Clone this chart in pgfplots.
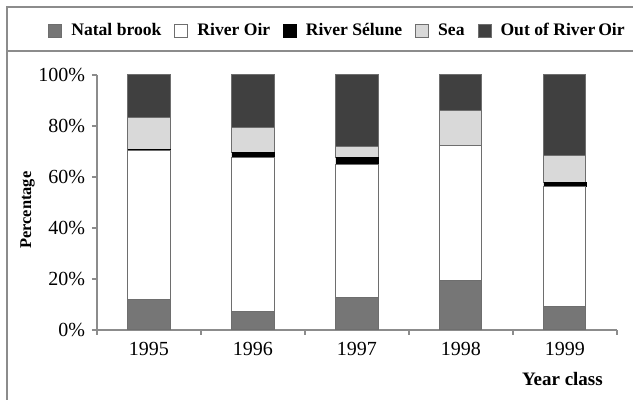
\documentclass[border=0pt]{standalone}
\usepackage{fontspec}
\setmainfont{Liberation Serif}
\usepackage{pgfplots}
\pgfplotsset{compat=1.18}
\definecolor{natal}{HTML}{767676}
\definecolor{sea}{HTML}{D9D9D9}
\definecolor{outoir}{HTML}{404040}
\definecolor{edge}{HTML}{6E6E6E}
\definecolor{axgray}{HTML}{8C8C8C}
\begin{document}
\begin{tikzpicture}
\begin{axis}[
  at={(0pt,0pt)}, anchor=south west,
  scale only axis,
  width=260pt, height=127.5pt,
  ybar stacked,
  bar width=0.404,
  xmin=-0.5, xmax=4.5,
  ymin=0, ymax=100,
  xtick={-0.5,0.5,1.5,2.5,3.5,4.5},
  x tick label as interval,
  xticklabels={1995,1996,1997,1998,1999},
  ytick={0,20,40,60,80,100},
  yticklabel={\pgfmathprintnumber{\tick}\%},
  /pgf/number format/assume math mode=true,
  axis x line*=bottom, axis y line*=left,
  axis line style={axgray, line width=0.6pt},
  tick style={axgray, line width=0.6pt},
  tick align=outside,
  major tick length=2.5pt,
  ticklabel style={font=\fontsize{10}{12}\selectfont, text=black},
  xlabel={Year class},
  xlabel style={at={(axis description cs:0.895,0)}, anchor=center, yshift=-24.5pt, font=\fontsize{9.5}{11}\selectfont\bfseries},
  ylabel={Percentage},
  ylabel style={at={(axis description cs:-0.1337,0.47)}, anchor=center, font=\fontsize{8.2}{10}\selectfont\bfseries},
  legend columns=5,
  legend style={at={(axis description cs:0.4606,1.1725)}, anchor=center, draw=none, fill=none,
    font=\fontsize{8.8}{10}\selectfont\bfseries,
    nodes={inner sep=0pt, anchor=west},
    /tikz/every odd column/.append style={column sep=4.5pt},
    /tikz/every even column/.append style={column sep=6.5pt}},
  legend image code/.code={\draw[#1] (0pt,-3.25pt) rectangle (6.5pt,3.25pt);},
]
\addplot[fill=natal, draw=edge, line width=0.5pt] coordinates {(0,12.1) (1,7.1) (2,12.6) (3,19.6) (4,9.4)};
\addlegendentry{Natal brook}
\addplot[fill=white, draw=edge, line width=0.5pt] coordinates {(0,58.1) (1,60.5) (2,52.4) (3,52.7) (4,47.0)};
\addlegendentry{River Oir}
\addplot[fill=black, draw=black, line width=0.3pt] coordinates {(0,0.6) (1,2.2) (2,2.8) (3,0.0) (4,1.5)};
\addlegendentry{River Sélune}
\addplot[fill=sea, draw=edge, line width=0.5pt] coordinates {(0,12.6) (1,9.8) (2,4.2) (3,13.9) (4,10.6)};
\addlegendentry{Sea}
\addplot[fill=outoir, draw=edge, line width=0.5pt] coordinates {(0,16.6) (1,20.4) (2,28.0) (3,13.8) (4,31.5)};
\addlegendentry{Out of River\,Oir}
\end{axis}
\draw[axgray, line width=0.7pt] (-45pt,-40pt) -- (-45pt,161.5pt) -- (280pt,161.5pt);
\draw[axgray, line width=0.7pt] (-45pt,139.5pt) -- (280pt,139.5pt);
\pgfresetboundingbox
\useasboundingbox (-48.5pt,-35pt) rectangle (268pt,165pt);
\end{tikzpicture}
\end{document}
